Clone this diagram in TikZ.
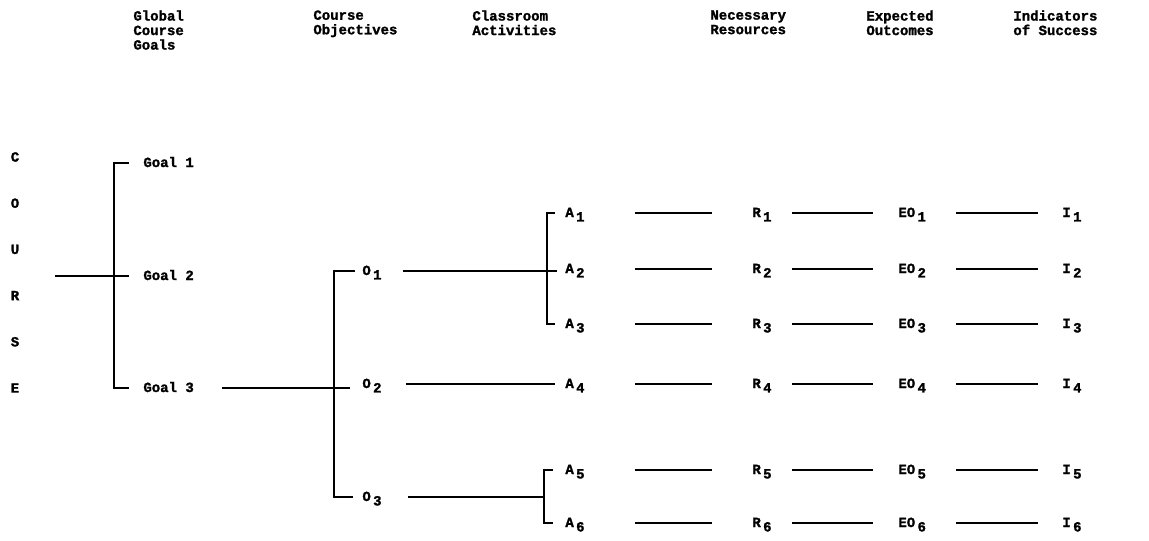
\documentclass[tikz,border=0pt]{standalone}
\usepackage{fontspec}
\newfontfamily\heavytt[FakeBold=1.5]{Liberation Mono Bold}
\newcommand{\ix}[2]{#1\,\raisebox{-.6ex}{#2}}

\begin{document}
\begin{tikzpicture}[x=0.5pt,y=-0.5pt,
  every node/.style={font=\heavytt\fontsize{7}{7.25}\selectfont},
  head/.style={anchor=north west,align=left,inner sep=0pt},
  lbl/.style={anchor=west,inner sep=0pt,text height=4pt,text depth=0pt},
  wire/.style={line width=1pt}]
  \useasboundingbox (0,0) rectangle (1149,540);

  \node[head] (hgoal) at (133,10) {Global\\Course\\Goals};
  \node[head] (hobj) at (313,10) {Course\\Objectives};
  \node[head] (hact) at (472,10) {Classroom\\Activities};
  \node[head] (hres) at (710,10) {Necessary\\Resources};
  \node[head] (hout) at (866,10) {Expected\\Outcomes};
  \node[head] (hind) at (1013,10) {Indicators\\of Success};

  \foreach \l [count=\k] in {C,O,U,R,S,E}
    \node (c\k) at (15,{157+46.2*(\k-1)}) {\l};

  \node[lbl] (g1) at (143,163) {Goal 1};
  \node[lbl] (g2) at (143,276) {Goal 2};
  \node[lbl] (g3) at (143,388) {Goal 3};
  \draw[wire] ([xshift=-7pt]g1.west) -- ++(-15,0) |- ([xshift=-7pt]g3.west);
  \coordinate (cin) at (55,276);
  \draw[wire] (cin) -- ([xshift=-7pt]g2.west);

  \node[lbl] (o1) at (362,271) {\ix{O}{1}};
  \node[lbl] (o2) at (362,384) {\ix{O}{2}};
  \node[lbl] (o3) at (362,497) {\ix{O}{3}};
  \draw[wire] ([xshift=-3.5pt]o1.west) -- ++(-21,0) |- ([xshift=-4.5pt]o3.west);
  \draw[wire,shorten <=14pt,shorten >=6pt] (g3.east) -- (g3.east -| o2.west);

  \foreach \i/\y in {1/213,2/269,3/324,4/384,5/470,6/523}{
    \node[lbl] (a\i) at (565,\y) {\ix{A}{\i}};
    \node[lbl] (r\i) at (752,\y) {\ix{R}{\i}};
    \node[lbl] (eo\i) at (898,\y) {\ix{EO}{\i}};
    \node[lbl] (i\i) at (1062,\y) {\ix{I}{\i}};
    \draw[wire] ([xshift=25pt]a\i.east) -- ([xshift=-20pt]r\i.west);
    \draw[wire] ([xshift=10pt]r\i.east) -- ([xshift=-12.5pt]eo\i.west);
    \draw[wire] ([xshift=15pt]eo\i.east) -- ([xshift=-12pt]i\i.west);
  }

  \draw[wire] ([xshift=-5pt]a1.west) -- ++(-8,0) |- ([xshift=-5pt]a3.west);
  \draw[wire] ([xshift=-6pt]a5.west) -- ++(-9,0) |- ([xshift=-6pt]a6.west);

  \draw[wire,shorten <=10.5pt,shorten >=4pt] (o1.east) -- (o1.east -| a2.west);
  \draw[wire,shorten <=12pt,shorten >=5pt] (o2.east) -- (o2.east -| a4.west);
  \draw[wire,shorten <=13pt,shorten >=10.5pt] (o3.east) -- (o3.east -| a5.west);
\end{tikzpicture}
\end{document}
